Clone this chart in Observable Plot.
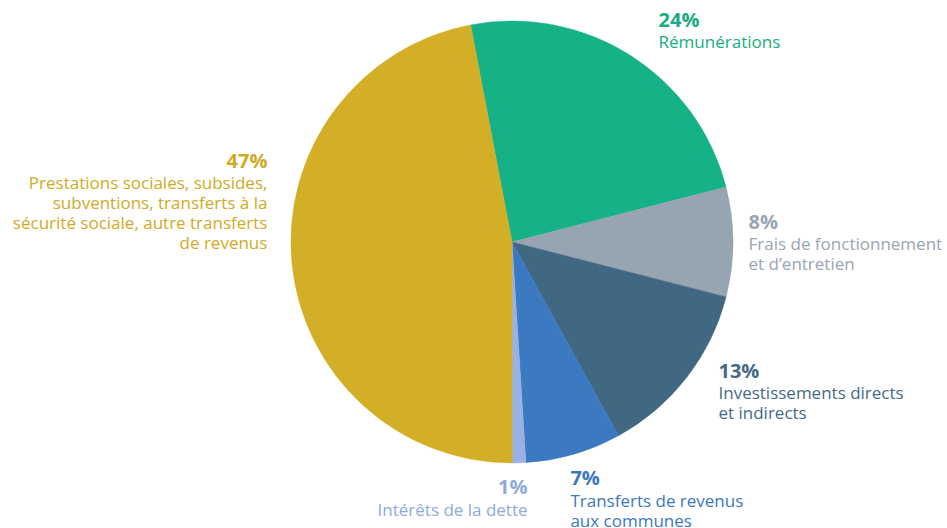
<!DOCTYPE html>
<html>
<head>
<meta charset="utf-8">
<script src="https://cdn.jsdelivr.net/npm/d3@7"></script>
<script src="https://cdn.jsdelivr.net/npm/@observablehq/plot@0.6"></script>
<style>
  html, body { margin: 0; padding: 0; background: #fff; }
  #chart svg { display: block; }
</style>
</head>
<body>
<div id="chart"></div>
<script>
// ---- data ----
const categories = [
  "Rémunérations",
  "Frais de fonctionnement et d’entretien",
  "Investissements directs et indirects",
  "Transferts de revenus aux communes",
  "Intérêts de la dette",
  "Prestations sociales, subsides, subventions, transferts à la sécurité sociale, autre transferts de revenus"
];
const values = [24, 8, 13, 7, 1, 47];
const percentLabels = ["24%", "8%", "13%", "7%", "1%", "47%"];
const labelLines = [
  ["Rémunérations"],
  ["Frais de fonctionnement", "et d’entretien"],
  ["Investissements directs", "et indirects"],
  ["Transferts de revenus", "aux communes"],
  ["Intérêts de la dette"],
  ["Prestations sociales, subsides,", "subventions, transferts à la", "sécurité sociale, autre transferts", "de revenus"]
];
const sliceColors = ["#14b286", "#97a4b1", "#416883", "#3b79c1", "#99b2e1", "#d3ae27"];
const textColors  = ["#17ad82", "#99a5b2", "#456a86", "#3a78c0", "#8eaadc", "#cfab25"];
// label anchors, in pie-radius units relative to the centre
const labelX = [0.661, 1.068, 0.932, 0.262, 0.068, -1.109];
const labelY = [-0.977, -0.063, 0.611, 1.099, 1.140, -0.339];
const labelAnchor = ["start", "start", "start", "start", "end", "end"];

const startAngle = -10.8 * Math.PI / 180;

const W = 947, H = 528, CX = 512, CY = 242, R = 221;

const rows = categories.map((c, i) => ({
  category: c,
  value: values[i],
  pct: percentLabels[i],
  text: labelLines[i].join("\n"),
  lx: labelX[i],
  ly: labelY[i],
  anchor: labelAnchor[i],
  tcolor: textColors[i]
}));

const pie = d3.pie().sort(null).value(d => d.value).startAngle(startAngle).endAngle(startAngle + 2 * Math.PI);
const arcs = pie(rows);

function pieMark(index, scales, values, dimensions, context) {
  const x0 = scales.x(0), y0 = scales.y(0);
  const r = scales.x(1) - scales.x(0);
  const arc = d3.arc().innerRadius(0).outerRadius(r);
  const g = d3.create("svg:g").attr("transform", `translate(${x0},${y0})`);
  g.selectAll("path").data(arcs).join("path")
    .attr("d", arc)
    .attr("fill", d => scales.color(d.data.category))
    .attr("stroke", d => scales.color(d.data.category))
    .attr("stroke-width", 0.5);
  return g.node();
}

const font = "'Open Sans', Lato, sans-serif";
const starts = rows.filter(d => d.anchor === "start");
const ends = rows.filter(d => d.anchor === "end");
const bodySize = 17;
const lh = 20 / bodySize;
const dyLines = 19.5 - 0.71 * bodySize;

const chart = Plot.plot({
  width: W,
  height: H,
  margin: 0,
  x: {domain: [-CX / R, (W - CX) / R], range: [0, W], axis: null},
  y: {domain: [-CY / R, (H - CY) / R], range: [0, H], axis: null},
  color: {domain: categories, range: sliceColors},
  style: {fontFamily: font, background: "#fff"},
  marks: [
    pieMark,
    Plot.text(starts, {x: "lx", y: "ly", text: "pct", fill: "tcolor", textAnchor: "start", lineAnchor: "bottom", fontSize: 20, fontWeight: 700}),
    Plot.text(ends, {x: "lx", y: "ly", text: "pct", fill: "tcolor", textAnchor: "end", lineAnchor: "bottom", fontSize: 20, fontWeight: 700}),
    Plot.text(starts, {x: "lx", y: "ly", text: "text", fill: "tcolor", textAnchor: "start", lineAnchor: "top", lineHeight: lh, dy: dyLines, fontSize: bodySize, fontWeight: 500}),
    Plot.text(ends, {x: "lx", y: "ly", text: "text", fill: "tcolor", textAnchor: "end", lineAnchor: "top", lineHeight: lh, dy: dyLines, fontSize: bodySize, fontWeight: 500})
  ]
});
document.getElementById("chart").appendChild(chart);
</script>
</body>
</html>
